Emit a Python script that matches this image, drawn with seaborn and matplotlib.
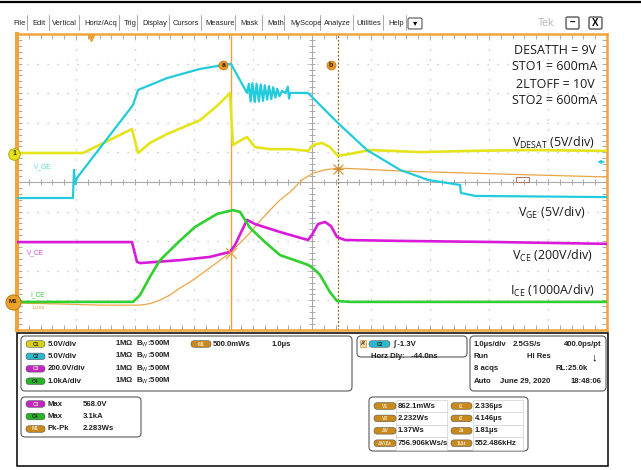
import matplotlib
matplotlib.use("Agg")
import matplotlib.pyplot as plt
import seaborn as sns
import pandas as pd
import numpy as np
from matplotlib.patches import FancyBboxPatch, Rectangle

# ---- trace data: time in us (1 us/div), value in screen divisions (0 = centre)
t_desat = [-1.29, -0.171, 0.659, 0.761, 0.964, 1.252, 1.812, 2.100, 2.320, 2.371, 2.490, 2.608,
           2.744, 2.998, 3.337, 3.642, 3.727, 3.879, 4.015, 4.151, 4.354, 4.693, 5.541, 6.388,
           7.405, 8.71]
v_desat = [0.98, 0.98, 1.79, 0.98, 1.32, 1.62, 2.09, 2.57, 3.00, 1.25, 1.39, 1.52,
           1.18, 1.11, 1.11, 1.05, 1.25, 1.32, 1.18, 0.88, 0.95, 1.08, 1.01, 1.05,
           1.08, 1.05]

t_vge = [-1.29, -0.341, -0.324, -0.307, -0.273, 0.676, 0.761, 1.252, 1.812, 2.202, 2.337,
         2.608, 2.64, 2.67, 2.70, 2.74, 2.77, 2.81, 2.84, 2.88, 2.91, 2.95, 2.98, 3.02, 3.05,
         3.09, 3.12, 3.16, 3.20, 3.26, 3.30, 3.32, 3.34, 3.642, 4.151, 4.642, 5.202, 5.676,
         6.218, 6.235, 6.473, 8.71]
v_vge = [-0.54, -0.54, 0.41, -0.07, 0.14, 2.60, 3.11, 3.51, 3.82, 3.95, 3.99,
         3.01, 3.32, 2.72, 3.34, 2.70, 3.32, 2.72, 3.30, 2.74, 3.27, 2.78, 3.24, 2.80, 3.20,
         2.85, 3.15, 2.90, 3.08, 3.00, 3.22, 2.82, 3.01, 3.01, 1.99, 1.08, 0.41, 0.07,
         -0.10, -0.37, -0.47, -0.51]

t_vce = [-1.29, 0.659, 0.744, 0.795, 1.473, 1.981, 2.320, 2.405, 2.608, 2.744, 3.168, 3.642,
         3.710, 3.812, 3.930, 4.032, 4.134, 4.270, 5.202, 6.896, 8.71]
v_vce = [-2.03, -2.03, -2.70, -2.74, -2.64, -2.53, -2.36, -2.13, -1.28, -1.42, -1.69, -1.96,
         -1.79, -1.42, -1.35, -1.49, -1.86, -1.96, -1.99, -2.03, -2.09]

t_ice = [-1.29, 0.676, 0.795, 0.964, 1.134, 1.473, 1.727, 2.100, 2.371, 2.490, 2.659, 2.913,
         3.168, 3.642, 3.727, 3.846, 4.015, 4.134, 4.354, 8.71]
v_ice = [-4.05, -4.05, -3.82, -3.20, -2.64, -1.98, -1.52, -1.08, -0.95, -1.01, -1.55, -2.03,
         -2.47, -2.80, -2.91, -3.14, -3.72, -4.02, -4.05, -4.05]

t_loss = [-1.29, -0.561, 0.117, 0.795, 0.964, 1.134, 1.303, 1.473, 1.642, 1.812, 2.066,
          2.320, 2.490, 2.659, 2.829, 2.998, 3.168, 3.337, 3.541, 3.727, 3.930, 4.151, 4.524,
          5.202, 6.896, 8.71]
v_loss = [-4.09, -4.12, -4.16, -4.16, -4.11, -3.99, -3.82, -3.58, -3.38, -3.14, -2.77,
          -2.40, -2.06, -1.72, -1.32, -0.95, -0.61, -0.34, 0.07, 0.30, 0.41, 0.47, 0.44,
          0.37, 0.27, 0.17]

cursor_a, cursor_b = 2.336, 4.146

notes = ["DESATTH = 9V", "STO1 = 600mA", "2LTOFF = 10V", "STO2 = 600mA"]
trace_labels = [r"V$_{\mathrm{DESAT}}$ (5V/div)", r"V$_{\mathrm{GE}}$ (5V/div)",
                r"V$_{\mathrm{CE}}$ (200V/div)", r"I$_{\mathrm{CE}}$ (1000A/div)"]
menu_items = ["File", "Edit", "Vertical", "Horiz/Acq", "Trig", "Display", "Cursors", "Measure",
              "Mask", "Math", "MyScope", "Analyze", "Utilities", "Help"]

ch_rows = [("C1", "5.0V/div"), ("C2", "5.0V/div"), ("C3", "200.0V/div"), ("C4", "1.0kA/div")]
meas_rows = [("C3", "Max", "568.0V"), ("C4", "Max", "3.1kA"), ("M1", "Pk-Pk", "2.283Ws")]
acq_rows = [("1.0\u00b5s/div", "2.5GS/s", "400.0ps/pt"), ("Run", "Hi Res", "\u2193"),
            ("8 acqs", "", "RL:25.0k"), ("Auto", "June 29, 2020", "18:48:06")]
cur_rows = [("V1", "862.1mWs", "t1", "2.336\u00b5s"), ("V2", "2.232Ws", "t2", "4.146\u00b5s"),
            ("\u0394V", "1.37Ws", "\u0394t", "1.81\u00b5s"),
            ("\u0394V/\u0394t", "756.906kWs/s", "1/\u0394t", "552.486kHz")]

colors = {"C1": "#e4e41c", "C2": "#22cbdb", "C3": "#d91ad9", "C4": "#30d030", "M1": "#e9a545"}
badge_fc = {"C1": "#d6d21c", "C2": "#2ab8cc", "C3": "#c226c2", "C4": "#26b426", "M1": "#c98a1c"}

sns.set_theme(style="white")
plt.rcParams["font.family"] = ["Liberation Sans", "DejaVu Sans"]
plt.rcParams["mathtext.fontset"] = "custom"
plt.rcParams["mathtext.rm"] = "Open Sans"
plt.rcParams["mathtext.it"] = "Open Sans:italic"
plt.rcParams["mathtext.bf"] = "Open Sans:bold"

W, H = 641, 470
fig = plt.figure(figsize=(W / 100, H / 100), dpi=100)
ov = fig.add_axes([0, 0, 1, 1])
ov.set_xlim(0, W)
ov.set_ylim(H, 0)
ov.axis("off")

ax = fig.add_axes([17 / W, (H - 330) / H, 590 / W, 296 / H])
ax.set_facecolor("none")
x0 = -1.29
ax.set_xlim(x0, x0 + 10)
ax.set_ylim(-5, 5)
ax.set_xticks([])
ax.set_yticks([])
for side, sp in ax.spines.items():
    sp.set_color("#f0a53a")
    sp.set_linewidth(3.0 if side == "left" else 1.8)

# graticule
grid_c = "#bcbcbc"
for k in range(1, 10):
    if k == 5:
        continue
    ax.axvline(x0 + k, color=grid_c, lw=0.9, ls=(0, (1, 7)), zorder=0)
    ax.axhline(-5 + k, color=grid_c, lw=0.9, ls=(0, (1, 7)), zorder=0)
ax.axvline(x0 + 5, color="#a9a9a9", lw=0.8, zorder=0)
ax.axhline(0, color="#a9a9a9", lw=0.8, zorder=0)
mx = x0 + np.arange(1, 50) * 0.2
my = -5 + np.arange(1, 50) * 0.2
ax.vlines(mx, -0.1, 0.1, color="#a9a9a9", lw=0.7, zorder=0)
ax.hlines(my, x0 + 5 - 0.05, x0 + 5 + 0.05, color="#a9a9a9", lw=0.7, zorder=0)
ax.vlines(mx, 4.84, 5, color="#a9a9a9", lw=0.7, zorder=0)
ax.vlines(mx, -5, -4.84, color="#a9a9a9", lw=0.7, zorder=0)
ax.hlines(my, x0, x0 + 0.09, color="#a9a9a9", lw=0.7, zorder=0)
ax.hlines(my, x0 + 10 - 0.09, x0 + 10, color="#a9a9a9", lw=0.7, zorder=0)

# traces
traces = [("M1", t_loss, v_loss, 0.9), ("C1", t_desat, v_desat, 1.9), ("C2", t_vge, v_vge, 1.6),
          ("C3", t_vce, v_vce, 1.9), ("C4", t_ice, v_ice, 1.9)]
for ch, tt, vv, lw in traces:
    df = pd.DataFrame({"t": tt, "v": vv})
    sns.lineplot(data=df, x="t", y="v", ax=ax, color=colors[ch], lw=lw, sort=False,
                 estimator=None, legend=False, zorder=3)
ax.set_xlabel("")
ax.set_ylabel("")

# cursors
ax.axvline(cursor_a, color="#eba340", lw=1.0, zorder=2)
ax.axvline(cursor_b, color="#8a6a2a", lw=0.9, ls=(0, (1.5, 1.5)), zorder=2)
for cx, lab in [(cursor_a - 0.13, "a"), (cursor_b - 0.12, "b")]:
    ax.scatter([cx], [3.95], s=42, color="#eb9a22", edgecolor="#b87510", lw=0.5, zorder=5)
    ax.text(cx, 3.95, lab, fontsize=5, ha="center", va="center", color="#2a1a00",
            fontweight="bold", zorder=6)
ax.scatter([cursor_a], [-2.40], marker="x", s=60, color="#eba340", lw=0.9, zorder=5)
ax.scatter([cursor_b], [0.45], marker="x", s=50, color="#c88a30", lw=0.8, zorder=5)
ax.scatter([cursor_b], [0.45], marker="+", s=60, color="#c88a30", lw=0.8, zorder=5)

# markers on screen edges
ax.plot([-0.044], [4.86], marker="v", color="#f0a030", ms=5, clip_on=False, zorder=6)
ax.scatter([x0 - 0.05], [0.95], s=70, color="#e6e21c", edgecolor="#a8a400", lw=0.6,
           clip_on=False, zorder=6)
ax.text(x0 - 0.05, 0.95, "1", fontsize=5, ha="center", va="center", color="#333300",
        fontweight="bold", clip_on=False, zorder=7)
ax.scatter([x0 - 0.07], [-4.05], s=120, color="#eba22a", edgecolor="#b07010", lw=0.6,
           clip_on=False, zorder=6)
ax.text(x0 - 0.07, -4.05, "M1", fontsize=4.6, ha="center", va="center", color="#2a1a00",
        fontweight="bold", clip_on=False, zorder=7)
ax.annotate("", xy=(8.50, 0.68), xytext=(8.71, 0.68),
            arrowprops=dict(arrowstyle="-|>", color=colors["C2"], lw=1.0, mutation_scale=5))
ax.add_patch(Rectangle((7.17, 0.0), 0.22, 0.17, fill=False, ec="#b07a64", lw=0.8, zorder=4))

ax.text(x0 + 0.28, 0.45, "V_GE", fontsize=4.8, color="#55d8d8", zorder=4)
ax.text(x0 + 0.17, -2.45, "V_CE", fontsize=4.8, color="#d94ad9", zorder=4)
ax.text(x0 + 0.22, -3.85, "I_CE", fontsize=4.8, color="#3bc83b", zorder=4)
ax.text(x0 + 0.27, -4.28, "Loss", fontsize=4.2, color="#e0a050", zorder=4)

# annotations on the right
for i, s in enumerate(notes):
    ov.text(555, 50 + i * 17, s, fontsize=9, family="Open Sans", ha="center", va="center",
            color="#1a1a1a")
for (x, y), s in zip([(512, 143), (518, 213), (512, 256), (510, 291)], trace_labels):
    ov.text(x, y, s, fontsize=9, family="Open Sans", ha="left", va="center", color="#1a1a1a")

# menu bar
ov.plot([0, W], [2, 2], color="black", lw=1.6)
menu_x = [13, 32, 52, 84, 124, 142, 173, 205, 240, 267, 290, 324, 356, 388]
sep_x = [27, 49, 79, 119, 137, 169, 201, 235, 262, 284, 320, 353, 383, 406]
for x, s in zip(menu_x, menu_items):
    ov.text(x, 23.5, s, fontsize=5.4, ha="left", va="center", color="#222222")
for x in sep_x:
    ov.plot([x, x], [15, 30], color="#9a9a9a", lw=0.6)
ov.add_patch(FancyBboxPatch((408, 18), 14, 11, boxstyle="round,pad=0,rounding_size=1.5",
                            fc="white", ec="#555555", lw=0.8))
ov.text(415, 23.5, "\u25be", fontsize=6, ha="center", va="center", color="black")
ov.text(546, 23.5, "Tek", fontsize=7.5, ha="center", va="center", color="#b8b8b8")
for bx, s in [(566, "\u2013"), (589, "X")]:
    ov.add_patch(FancyBboxPatch((bx, 17), 13, 12, boxstyle="round,pad=0,rounding_size=1.5",
                                fc="white", ec="#444444", lw=0.9))
    ov.text(bx + 6.5, 23.3, s, fontsize=7, ha="center", va="center", color="black",
            fontweight="bold")

# bottom panel
ov.add_patch(Rectangle((17, 333), 591, 133, fill=False, ec="black", lw=1.1))


def rbox(x, y, w, h):
    ov.add_patch(FancyBboxPatch((x, y), w, h, boxstyle="round,pad=0,rounding_size=4",
                                fc="white", ec="#5a5a5a", lw=0.8))


def badge(x, y, w, lab, key):
    ov.add_patch(FancyBboxPatch((x, y - 3.3), w, 6.6, boxstyle="round,pad=0,rounding_size=3.3",
                                fc=badge_fc[key], ec="#555555", lw=0.4))
    ov.text(x + w / 2, y, lab, fontsize=3.6, ha="center", va="center",
            color="#222222" if key in ("C1", "C2", "C4") else "#f4e4c8", fontweight="bold")


txt = dict(fontsize=5.6, fontweight="bold", va="center", color="#202020")
rbox(21, 336, 331, 55)
for i, (ch, s) in enumerate(ch_rows):
    y = 344 + i * 12.4
    badge(26, y, 19, ch, ch)
    ov.text(48, y, s, **txt)
    ov.text(115, y, "1M\u03a9  B$_\\mathrm{W}$:500M", **txt)
badge(191, 344, 20, "M1", "M1")
ov.text(213, 344, "500.0mWs", **txt)
ov.text(272, 344, "1.0\u00b5s", **txt)

rbox(21, 397, 120, 40)
for i, (ch, lab, val) in enumerate(meas_rows):
    y = 404 + i * 12.5
    badge(26, y, 19, ch, ch)
    ov.text(48, y, lab, **txt)
    ov.text(83, y, val, **txt)

rbox(357, 336, 110, 21)
ov.add_patch(Rectangle((360, 340), 6, 7, fc="#f6d9a8", ec="#d09040", lw=0.5))
ov.text(363, 343.5, "A'", fontsize=3.8, ha="center", va="center", fontweight="bold")
badge(369, 344, 21, "C2", "C2")
ov.text(393, 344, "\u222b -1.3V", **txt)
ov.text(371, 356, "Horz Dly:   -44.0ns", **txt)

rbox(470, 336, 136, 55)
for i, (a, b, c) in enumerate(acq_rows):
    y = 344 + i * 12.4
    ov.text(474, y, a, **txt)
    bx = 513 if i == 0 else (527 if i == 1 else 500)
    ov.text(bx, y, b, **txt)
    if c == "\u2193":
        ov.text(597, y + 1, c, fontsize=8, fontweight="bold", ha="right", va="center",
                color="black")
    else:
        ov.text(602 if i != 2 else 556, y, c, ha="right" if i != 2 else "left", **txt)

rbox(369, 397, 159, 54)
for i, (l1, v1, l2, v2) in enumerate(cur_rows):
    y = 406 + i * 12.4
    ov.add_patch(Rectangle((396, y - 6), 51, 12.4, fill=False, ec="#d8d8d8", lw=0.6))
    ov.add_patch(Rectangle((473, y - 6), 50, 12.4, fill=False, ec="#d8d8d8", lw=0.6))
    badge(374, y, 22, l1, "M1")
    ov.text(398, y, v1, **txt)
    badge(451, y, 21, l2, "M1")
    ov.text(475, y, v2, **txt)

fig.savefig("out.png", dpi=100)
